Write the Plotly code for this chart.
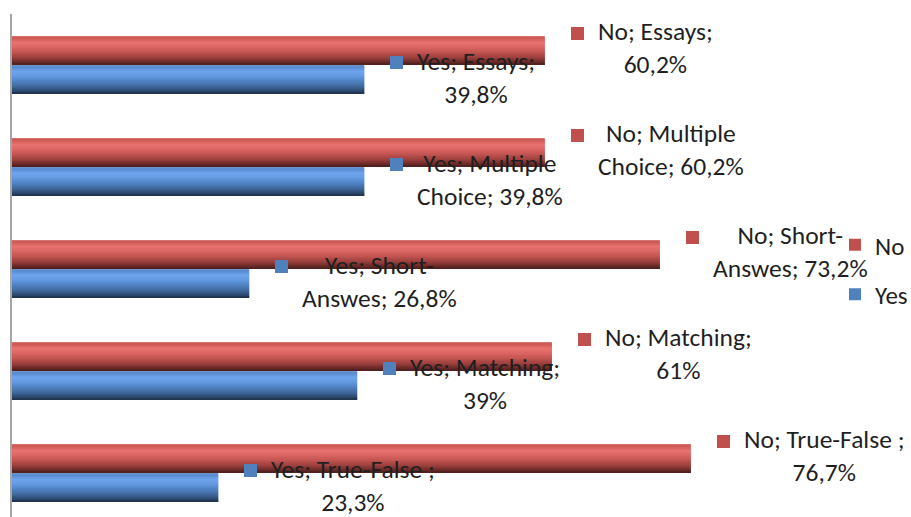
import plotly.graph_objects as go

# ---- data ----
categories = ["Essays", "Multiple Choice", "Short-Answes", "Matching", "True-False "]
no_values = [60.2, 60.2, 73.2, 61.0, 76.7]
yes_values = [39.8, 39.8, 26.8, 39.0, 23.3]
series_names = ["No", "Yes"]
# where each data label wraps onto a second line (text after this piece goes to line 2)
wrap_after = ["Essays;", "Multiple", "Short-", "Matching;", "True-False ;"]

# ---- styling ----
W, H = 911, 517
FONT = "Calibri, Carlito, Lato, sans-serif"
TXT = "#1f1f1f"
key_colors = {"No": "#C0504D", "Yes": "#4F81BD"}
# vertical gradient stops (position from top of bar, colour)
grad_stops = {
    "No": [(0.0, "#d98a88"), (0.05, "#c8524f"), (0.22, "#e8736f"), (0.38, "#dc6764"),
           (0.55, "#c35552"), (0.72, "#a24341"), (0.87, "#742e2c"), (1.0, "#4d1f1e")],
    "Yes": [(0.0, "#7c9fd0"), (0.05, "#5688cc"), (0.22, "#6ea5ee"), (0.38, "#6299e0"),
            (0.55, "#5083c4"), (0.72, "#416ca2"), (0.87, "#2f4e75"), (1.0, "#1e324b")],
}
N_SLICES = 24
BAR_W = 0.285      # thickness of one bar in category units

ypos = list(range(len(categories)))

def hex2rgb(h):
    h = h.lstrip("#")
    return [int(h[i:i + 2], 16) for i in (0, 2, 4)]

def grad_color(stops, t):
    for (p0, c0), (p1, c1) in zip(stops[:-1], stops[1:]):
        if p0 <= t <= p1:
            f = (t - p0) / (p1 - p0) if p1 > p0 else 0
            a, b = hex2rgb(c0), hex2rgb(c1)
            r = [round(a[j] + (b[j] - a[j]) * f) for j in range(3)]
            return "#%02x%02x%02x" % tuple(r)
    return stops[-1][1]

def fmt(v):
    s = f"{v:.1f}".replace(".", ",")
    if s.endswith(",0"):
        s = s[:-2]
    return s + "%"

fig = go.Figure()
for si, (name, vals) in enumerate(zip(series_names, [no_values, yes_values])):
    base = -BAR_W if si == 0 else 0.0
    h = BAR_W / N_SLICES
    for k in range(N_SLICES):
        c = grad_color(grad_stops[name], (k + 0.5) / N_SLICES)
        fig.add_trace(go.Bar(
            x=vals, y=ypos, orientation="h",
            offset=base + k * h, width=2 * h if k < N_SLICES - 1 else h,
            marker=dict(color=c, line=dict(width=0)),
            name=name, legendgroup=name, showlegend=False,
            hoverinfo="skip",
        ))
    # legend entry (series colour)
    fig.add_trace(go.Bar(
        x=[None], y=[None], orientation="h",
        marker=dict(color=key_colors[name], line=dict(width=0)),
        name=name, legendgroup=name, showlegend=True, hoverinfo="skip",
    ))

# data labels with legend keys
for si, (name, vals) in enumerate(zip(series_names, [no_values, yes_values])):
    yc_off = -BAR_W / 2 if si == 0 else BAR_W / 2
    for i, (cat, v) in enumerate(zip(categories, vals)):
        full = f"{name}; {cat}; {fmt(v)}"
        cut = full.index(wrap_after[i]) + len(wrap_after[i])
        line1 = full[:cut].strip()
        line2 = full[cut:].strip()
        fig.add_annotation(
            x=v, y=i + yc_off, xref="x", yref="y",
            text=f"{line1}<br>{line2}", showarrow=False,
            xanchor="left", yanchor="middle", align="center",
            xshift=52, yshift=2,
            font=dict(family=FONT, size=25.5, color=TXT),
            borderpad=0,
        )
        fig.add_annotation(
            x=v, y=i + yc_off, xref="x", yref="y",
            text=" ", showarrow=False, width=13, height=13,
            bgcolor=key_colors[name], borderpad=0, borderwidth=0,
            xanchor="left", yanchor="middle",
            xshift=26, yshift=17,
            font=dict(size=2),
        )

plot_top = 14
plot_h = H - plot_top
band_px = 102
y_bottom = -0.5 + plot_h / band_px
x_max = (W - 12) / 8.85

fig.update_layout(
    width=W, height=H,
    margin=dict(l=12, r=0, t=plot_top, b=0, autoexpand=False),
    paper_bgcolor="white", plot_bgcolor="white",
    barmode="overlay",
    showlegend=True,
    legend=dict(
        x=(835 - 12) / (W - 12), y=(H - 222) / plot_h,
        xanchor="left", yanchor="top",
        font=dict(family=FONT, size=25, color=TXT),
        bgcolor="rgba(0,0,0,0)", traceorder="grouped",
        tracegroupgap=14, itemwidth=30,
    ),
    xaxis=dict(range=[0, x_max], showgrid=False, zeroline=False,
               showticklabels=False, showline=False, ticks=""),
    yaxis=dict(range=[y_bottom, -0.5], showgrid=False, zeroline=False,
               showticklabels=False, showline=True, linecolor="#a6a6a6",
               linewidth=2, ticks="", tickvals=ypos),
)

fig.write_html("out.html", config={"displayModeBar": False},
               post_script="document.body.style.margin='0';document.body.style.overflow='hidden';")
